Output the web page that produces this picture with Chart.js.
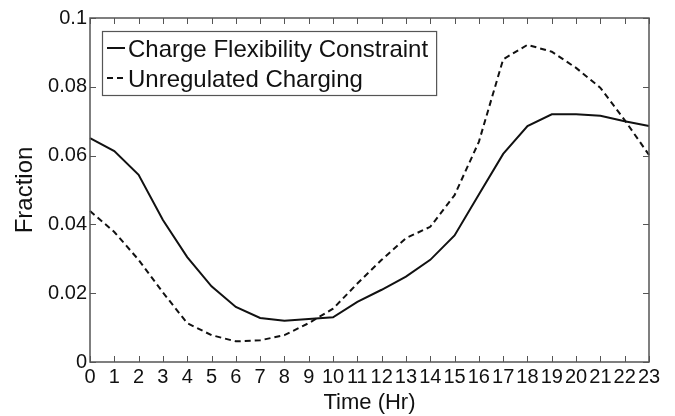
<!DOCTYPE html>
<html>
<head>
<meta charset="utf-8">
<script src="https://cdn.jsdelivr.net/npm/chart.js@4.4.1/dist/chart.umd.min.js"></script>
<style>
  html, body { margin: 0; padding: 0; background: #fff; }
  #wrap { width: 675px; height: 416px; }
</style>
</head>
<body>
<div id="wrap"><canvas id="grafico"></canvas></div>
<script>
// horas do dia
var horas = ['0','1','2','3','4','5','6','7','8','9','10','11','12','13','14','15','16','17','18','19','20','21','22','23'];

// Charge Flexibility Constraint
var flexibilidade = [0.0651, 0.0613, 0.0544, 0.0413, 0.0305, 0.0220, 0.0160, 0.0128, 0.0120, 0.0125, 0.0130, 0.0175,
                     0.0210, 0.0248, 0.0297, 0.0368, 0.0487, 0.0605, 0.0686, 0.0720, 0.0720, 0.0716, 0.0700, 0.0686];

// Unregulated Charging
var sem_regulacao = [0.0439, 0.0378, 0.0297, 0.0202, 0.0113, 0.0078, 0.0060, 0.0063, 0.0078, 0.0113, 0.0155, 0.0228,
                     0.0297, 0.0360, 0.0393, 0.0485, 0.0640, 0.0880, 0.0922, 0.0902, 0.0855, 0.0797, 0.0703, 0.0602];

var legendas = ['Charge Flexibility Constraint', 'Unregulated Charging'];

var fonte = 'Liberation Sans, Arial, sans-serif';
var corEixo = '#555';

// caixa do eixo com ticks para dentro (estilo matlab)
var moldura = {
    id: 'moldura',
    afterDatasetsDraw: function (chart) {
        var ctx = chart.ctx;
        var a = chart.chartArea;
        var sx = chart.scales.x;
        var sy = chart.scales.y;
        var t = 6;
        ctx.save();
        ctx.strokeStyle = corEixo;
        ctx.lineWidth = 1.5;
        ctx.strokeRect(a.left, a.top, a.right - a.left, a.bottom - a.top);
        ctx.lineWidth = 1;
        ctx.beginPath();
        sx.ticks.forEach(function (tk, i) {
            var px = Math.round(sx.getPixelForTick(i)) + 0.5;
            ctx.moveTo(px, a.bottom); ctx.lineTo(px, a.bottom - t);
            ctx.moveTo(px, a.top); ctx.lineTo(px, a.top + t);
        });
        sy.ticks.forEach(function (tk) {
            var py = Math.round(sy.getPixelForValue(tk.value)) + 0.5;
            ctx.moveTo(a.left, py); ctx.lineTo(a.left + t, py);
            ctx.moveTo(a.right, py); ctx.lineTo(a.right - t, py);
        });
        ctx.stroke();

        // legenda
        var bx = a.left + 12, by = a.top + 13;
        ctx.font = '24px ' + fonte;
        var w = 0;
        legendas.forEach(function (l) { w = Math.max(w, ctx.measureText(l).width); });
        var bw = 26 + w + 8, bh = 64;
        ctx.fillStyle = '#fff';
        ctx.fillRect(bx, by, bw, bh);
        ctx.strokeStyle = corEixo;
        ctx.lineWidth = 1.2;
        ctx.strokeRect(bx + 0.5, by + 0.5, bw, bh);
        ctx.strokeStyle = '#111';
        ctx.lineWidth = 2;
        chart.data.datasets.forEach(function (ds, i) {
            var yy = by + 17 + i * 30;
            ctx.setLineDash(ds.borderDash || []);
            ctx.beginPath();
            ctx.moveTo(bx + 5, yy); ctx.lineTo(bx + 23, yy);
            ctx.stroke();
            ctx.setLineDash([]);
            ctx.fillStyle = '#111';
            ctx.textBaseline = 'alphabetic';
            ctx.fillText(legendas[i], bx + 26, yy + 9);
        });
        ctx.restore();
    }
};

var ctx_grafico = document.getElementById('grafico').getContext('2d');

var config = {
    type: 'line',
    data: {
        labels: horas,
        datasets: [
            {
                label: legendas[0],
                data: flexibilidade,
                borderColor: '#111',
                borderWidth: 2,
                pointRadius: 0,
                tension: 0
            },
            {
                label: legendas[1],
                data: sem_regulacao,
                borderColor: '#111',
                borderWidth: 2,
                borderDash: [6, 4],
                pointRadius: 0,
                tension: 0
            }
        ]
    },
    options: {
        responsive: true,
        maintainAspectRatio: false,
        animation: false,
        layout: { padding: { left: 0, right: 26, top: 18, bottom: 0 } },
        scales: {
            x: {
                offset: false,
                grid: { display: false, drawTicks: false },
                border: { display: false },
                ticks: {
                    autoSkip: false,
                    maxRotation: 0,
                    minRotation: 0,
                    padding: 3,
                    color: '#111',
                    font: { family: fonte, size: 20 }
                },
                title: {
                    display: true,
                    text: 'Time (Hr)',
                    color: '#111',
                    font: { family: fonte, size: 22 },
                    padding: { top: 0, bottom: 0 }
                },
                afterFit: function (scale) { scale.height = 54; }
            },
            y: {
                min: 0,
                max: 0.1,
                grid: { display: false, drawTicks: false },
                border: { display: false },
                ticks: {
                    stepSize: 0.02,
                    padding: 3,
                    color: '#111',
                    font: { family: fonte, size: 20 },
                    callback: function (v) { return String(+v.toFixed(2)); }
                },
                title: {
                    display: true,
                    text: 'Fraction',
                    color: '#111',
                    font: { family: fonte, size: 24 },
                    padding: { top: 11, bottom: 0 }
                },
                afterFit: function (scale) { scale.width = 90; }
            }
        },
        plugins: {
            legend: { display: false },
            tooltip: { enabled: false }
        }
    },
    plugins: [moldura]
};

var grafico_linha = new Chart(ctx_grafico, config);
</script>
</body>
</html>
